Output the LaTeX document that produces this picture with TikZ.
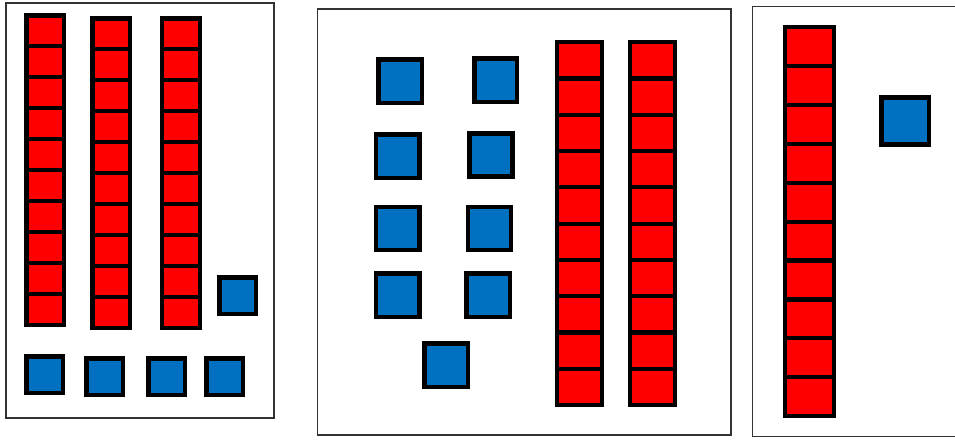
\documentclass[tikz,border=0pt]{standalone}
\definecolor{blueC}{RGB}{0,112,192}
\definecolor{redC}{RGB}{255,0,0}
\tikzset{
  redcell/.style={fill=redC, draw=black, line width=4.2pt},
  bluesq/.style={fill=blueC, draw=black, line width=4.5pt},
  panel/.style={draw=black!80, line width=1.2pt},
}
\newcommand\myrod[4]{%
  \foreach \i in {0,...,9}{%
    \pgfmathsetmacro\ya{#2+2.1+(#4-#2-4.2)*\i/10}%
    \pgfmathsetmacro\yb{#2+2.1+(#4-#2-4.2)*(\i+1)/10}%
    \draw[redcell] (#1+2.1,\ya) rectangle (#3-2.1,\yb);
  }}
\newcommand\mysq[4]{\draw[bluesq] (#1+2.25,#2+2.25) rectangle (#3-2.25,#4-2.25);}
\begin{document}
\begin{tikzpicture}[x=1pt,y=-1pt]
\useasboundingbox (0,0) rectangle (955,442);
\clip (0,0) rectangle (955,442);
% panel 1
\draw[panel] (6,3) rectangle (274,418);
\myrod{24.3}{13.3}{66.3}{326.7}
\myrod{90.3}{16.3}{132.3}{330}
\myrod{159.7}{16.3}{201.7}{330}
\mysq{217.3}{275.3}{258.3}{316}
\mysq{24}{354}{65.3}{395}
\mysq{84}{356}{125.3}{397.3}
\mysq{146}{356}{187.3}{397.3}
\mysq{204}{356}{245}{397.3}
% panel 2
\draw[panel] (317.3,9) rectangle (731,435);
\mysq{376}{57.3}{424.3}{105}
\mysq{472}{56}{519.3}{104}
\mysq{373.7}{132.3}{421.7}{180}
\mysq{467}{131}{514.7}{178.7}
\mysq{373.7}{204.7}{421.7}{252.3}
\mysq{465.7}{204.7}{513.3}{252.3}
\mysq{373.7}{271.3}{421.7}{319}
\mysq{464.3}{271.3}{512.3}{319}
\mysq{422}{341.3}{470}{389}
\myrod{555}{40}{604.3}{407.3}
\myrod{627.7}{40}{677}{407.3}
% panel 3
\draw[panel] (752.3,6.7) rectangle (962,436.7);
\myrod{782.7}{25}{836}{418.3}
\mysq{879}{95}{931}{146.7}
\end{tikzpicture}
\end{document}
